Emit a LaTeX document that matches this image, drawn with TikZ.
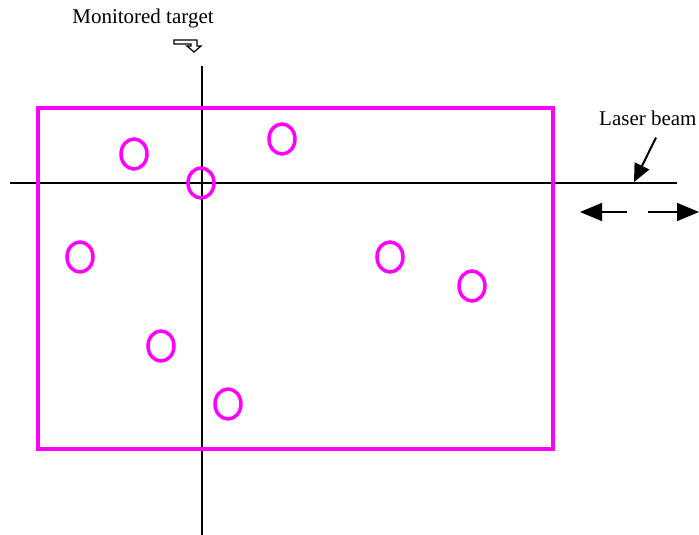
\documentclass[tikz,border=0pt]{standalone}
\usepackage{fontspec}
\setmainfont{Liberation Serif}
\usetikzlibrary{arrows.meta,positioning}
\definecolor{spotpink}{RGB}{255,0,255}

\begin{document}
\begin{tikzpicture}[
            x=1pt, y=-1pt,
            font=\fontsize{21}{25}\selectfont,
            axis/.style={line width=1.5pt, black},
            frame/.style={draw=spotpink, line width=4pt},
            spot/.style={draw=spotpink, line width=3.5pt},
            lbl/.style={inner sep=0pt},
            ar/.style={-{Triangle[length=18pt, width=16pt]}, line width=2pt},
            dir/.style={-{Triangle[length=22pt, width=18pt]}, line width=1.5pt}
        ]
            \useasboundingbox (0,0) rectangle (699,535);
% cross lines
            \draw[axis] (202,66) -- (202,535);
            \draw[axis] (10,183) -- (677,183);
% sample frame and targets
            \draw[frame] (38,108) rectangle (553,449);
            \foreach \cx/\cy in {134/154, 282/139, 201/183, 80/257, 390/257, 472/286, 161/346, 228/404}
                \draw[spot] (\cx,\cy) ellipse (13 and 15);
% labels
            \node[lbl] (mon) at (143,18) {Monitored target};
            \node[lbl, anchor=west] (las) at (599,118) {Laser beam};
% bent marker below the target label
            \draw[line width=1.2pt] (174,40) -- (197,40) -- (197,46) -- (201,46) -- (194,52)
                -- (187,46) -- (191,46) -- (191,44) -- (174,44) -- cycle;
% laser pointer
            \coordinate (hit) at (634,182);
            \draw[ar] (las.south -| 656,0) ++(0,12) -- (hit);
% scan directions
            \coordinate (lt) at (580,212);
            \coordinate (rt) at (699,212);
            \draw[dir] (627,212) -- (lt);
            \draw[dir] (648,212) -- (rt);
        \end{tikzpicture}
\end{document}
